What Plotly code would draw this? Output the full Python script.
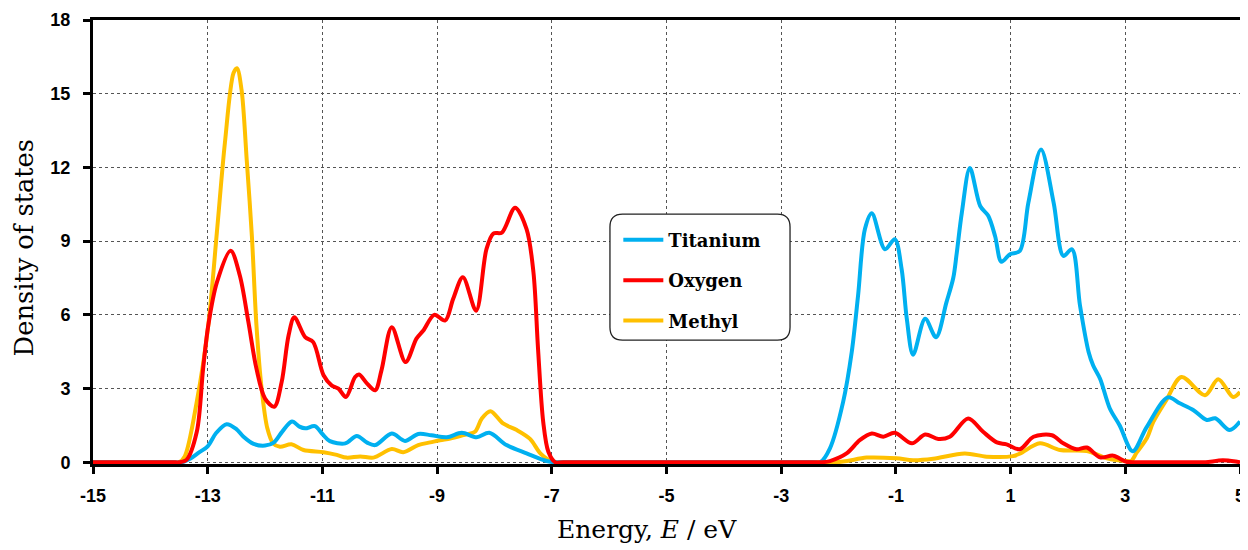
import plotly.graph_objects as go

# ---------------- data ----------------
ti_E = [-15, -13.6, -13.45, -13.3, -13.15, -13.0, -12.85, -12.67, -12.5, -12.38, -12.2, -12.0, -11.85,
        -11.7, -11.53, -11.4, -11.3, -11.13, -11.0, -10.87, -10.6, -10.4, -10.22, -10.08,
        -9.79, -9.56, -9.33, -9.1, -8.83, -8.57, -8.31, -8.09, -7.79, -7.44, -7.09, -6.95, -6.8,
        -2.45, -2.32, -2.15, -1.92, -1.77, -1.66, -1.54, -1.42, -1.19, -1.02, -0.9, -0.81, -0.7,
        -0.49, -0.3, -0.12, 0.0, 0.06, 0.15, 0.29, 0.47, 0.61, 0.73, 0.84, 0.99, 1.16, 1.31,
        1.53, 1.75, 1.92, 2.07, 2.21, 2.36, 2.44, 2.56, 2.73, 2.9, 3.13, 3.37, 3.74, 3.95,
        4.19, 4.42, 4.57, 4.82, 5.0]
ti_D = [0, 0, 0, 0.15, 0.4, 0.65, 1.2, 1.55, 1.35, 1.05, 0.75, 0.68, 0.8,
        1.25, 1.66, 1.45, 1.38, 1.47, 1.15, 0.86, 0.77, 1.07, 0.8, 0.7,
        1.17, 0.87, 1.15, 1.1, 1.02, 1.2, 1.02, 1.2, 0.7, 0.36, 0.05, 0, 0,
        0, 0, 0.57, 2.46, 4.49, 6.78, 9.49, 10.13, 8.67, 9.08, 7.86, 5.84, 4.38,
        5.84, 5.09, 6.5, 7.5, 8.5, 10.16, 11.98, 10.43, 10.03, 9.2, 8.16, 8.47, 8.6, 10.57,
        12.73, 10.57, 8.4, 8.67, 6.38, 4.49, 3.94, 3.4, 2.19, 1.51, 0.45, 1.42, 2.64, 2.4,
        2.12, 1.72, 1.79, 1.31, 1.66]

ox_E = [-15, -13.6, -13.5, -13.37, -13.19, -13.08, -12.99, -12.84, -12.6, -12.44, -12.29, -12.15,
        -12.0, -11.84, -11.71, -11.59, -11.49, -11.3, -11.16, -10.98, -10.84, -10.72, -10.59,
        -10.43, -10.36, -10.22, -10.08, -9.97, -9.79, -9.55, -9.36, -9.24, -9.05, -8.86,
        -8.72, -8.55, -8.32, -8.14, -8.02, -7.87, -7.64, -7.44, -7.32, -7.24, -7.15, -7.06,
        -6.94, -6.8, -2.45, -2.3, -2.15, -1.86, -1.63, -1.42, -1.22, -1.02, -0.72, -0.49, -0.26, -0.06,
        0.26, 0.52, 0.76, 0.93, 1.16, 1.4, 1.72, 1.92, 2.15, 2.33, 2.56, 2.79, 3.02, 3.2, 3.35,
        4.25, 4.4, 4.7, 4.95, 5.0]
ox_D = [0, 0, 0, 0.1, 1.24, 3.81, 5.57, 7.32, 8.61, 7.6, 5.7, 3.81,
        2.59, 2.26, 3.27, 5.16, 5.9, 5.09, 4.89, 3.54, 3.13, 3.0, 2.66,
        3.47, 3.57, 3.2, 2.93, 3.74, 5.5, 4.08, 5.03, 5.36, 6.0, 5.77,
        6.65, 7.53, 6.17, 8.67, 9.31, 9.35, 10.36, 9.49, 7.73, 4.62, 1.65, 0.43,
        0, 0, 0, 0, 0.05, 0.36, 0.9, 1.17, 1.04, 1.2, 0.77, 1.13, 0.95, 1.04,
        1.78, 1.24, 0.81, 0.73, 0.53, 1.04, 1.1, 0.77, 0.53, 0.6, 0.2, 0.27, 0.02, 0, 0,
        0, 0, 0.08, 0.02, 0]

me_E = [-15, -13.6, -13.5, -13.4, -13.19, -12.99, -12.84, -12.7, -12.55, -12.49, -12.41, -12.32,
        -12.23, -12.15, -12.06, -11.96, -11.86, -11.74, -11.54, -11.33, -10.98, -10.75,
        -10.58, -10.34, -10.11, -9.79, -9.59, -9.33, -9.12, -8.95, -8.77, -8.54, -8.34,
        -8.22, -8.07, -7.85, -7.61, -7.38, -7.2, -7.06, -6.95, -6.8, -2.2, -2.05, -1.85, -1.51, -0.99,
        -0.7, -0.35, 0.2, 0.58, 1.04, 1.17, 1.51, 1.86, 2.33, 2.68, 3.02, 3.1, 3.2, 3.38,
        3.49, 3.72, 3.98, 4.39, 4.62, 4.88, 5.0]
me_D = [0, 0, 0, 0.24, 2.47, 5.57, 9.36, 13.0, 15.84, 16.04, 15.16, 12.32,
        9.21, 5.57, 3.0, 1.38, 0.77, 0.63, 0.73, 0.5, 0.41, 0.3,
        0.19, 0.24, 0.19, 0.54, 0.41, 0.7, 0.81, 0.9, 0.97, 1.11, 1.24,
        1.78, 2.08, 1.58, 1.31, 0.95, 0.36, 0.1, 0, 0, 0, 0, 0.05, 0.19, 0.16,
        0.08, 0.14, 0.36, 0.23, 0.25, 0.36, 0.77, 0.5, 0.46, 0.16, 0.05, 0.05, 0.4, 1.0,
        1.65, 2.55, 3.47, 2.73, 3.38, 2.66, 2.86]

series = [
    ("Methyl", me_E, me_D, "#FFC000", 3),
    ("Titanium", ti_E, ti_D, "#00B0F0", 1),
    ("Oxygen", ox_E, ox_D, "#FF0000", 2),
]

x_ticks = list(range(-15, 6, 2))
y_ticks = list(range(0, 19, 3))

# ---------------- figure ----------------
fig = go.Figure()
for name, xs, ys, col, rank in series:
    fig.add_trace(go.Scatter(
        x=xs, y=ys, name=name, mode="lines",
        line=dict(color=col, width=4, shape="spline", smoothing=0.9),
        legendrank=rank, legendgroup=name,
    ))

tick_font = dict(family="Liberation Sans, Arial, sans-serif", size=18, color="black", weight="bold")

fig.update_xaxes(
    range=[-15, 5], tickvals=x_ticks, ticktext=[str(v) for v in x_ticks],
    showgrid=True, gridcolor="#555555", griddash="dot", gridwidth=1,
    zeroline=False, showline=True, linecolor="black", linewidth=3, mirror=True,
    ticks="outside", ticklen=7, tickwidth=3, tickcolor="black", ticklabelstandoff=6,
    tickfont=tick_font, layer="below traces", automargin=False,
)
fig.update_yaxes(
    range=[-0.07, 18], tickvals=y_ticks, ticktext=[str(v) for v in y_ticks],
    showgrid=True, gridcolor="#555555", griddash="dot", gridwidth=1,
    zeroline=False, showline=True, linecolor="black", linewidth=3, mirror=True,
    ticks="outside", ticklen=7, tickwidth=3, tickcolor="black", ticklabelstandoff=9,
    tickfont=tick_font, layer="below traces", automargin=False,
)

# axis titles
fig.add_annotation(text="Energy, <i>E</i> / eV", xref="paper", yref="paper",
                   x=0.483, y=-0.148, xanchor="center", yanchor="middle",
                   showarrow=False, font=dict(family="DejaVu Serif, serif", size=25, color="black"))
fig.add_annotation(text="Density of states", xref="paper", yref="paper",
                   x=-0.06, y=0.486, xanchor="center", yanchor="middle", textangle=-90,
                   showarrow=False, font=dict(family="DejaVu Serif, serif", size=25.7, color="black"))

# rounded legend frame (paper coordinates)
x0, x1, y0, y1 = 0.4507, 0.6077, 0.279, 0.563
rx, ry = 0.011, 0.029
path = (f"M{x0+rx},{y0} L{x1-rx},{y0} Q{x1},{y0} {x1},{y0+ry} "
        f"L{x1},{y1-ry} Q{x1},{y1} {x1-rx},{y1} L{x0+rx},{y1} Q{x0},{y1} {x0},{y1-ry} "
        f"L{x0},{y0+ry} Q{x0},{y0} {x0+rx},{y0} Z")
fig.add_shape(type="path", path=path, xref="paper", yref="paper",
              line=dict(color="#222222", width=1.3), fillcolor="white", layer="above")

# the page places the figure 8 px in from the top-left corner
fig.update_layout(
    width=1240, height=542,
    margin=dict(l=85, r=8, t=12, b=86, autoexpand=False),
    plot_bgcolor="white", paper_bgcolor="white",
    legend=dict(x=0.458, y=0.546, xanchor="left", yanchor="top",
                bgcolor="rgba(0,0,0,0)", borderwidth=0, tracegroupgap=14, itemwidth=40,
                font=dict(family="DejaVu Serif, serif", size=18, color="black", weight="bold")),
    showlegend=True,
)

fig.write_html("out.html")
